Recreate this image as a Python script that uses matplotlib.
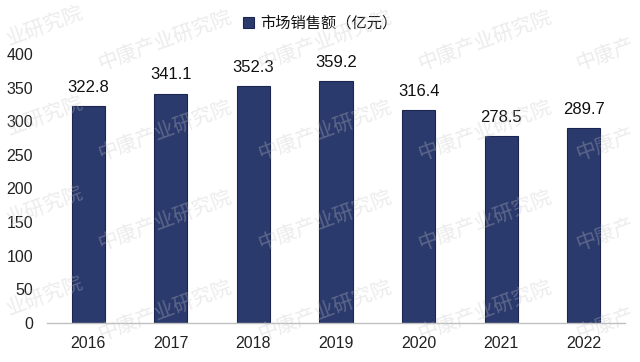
import matplotlib
matplotlib.use("Agg")
import matplotlib.pyplot as plt

years = ["2016", "2017", "2018", "2019", "2020", "2021", "2022"]
sales = [322.8, 341.1, 352.3, 359.2, 316.4, 278.5, 289.7]
series_name = "市场销售额（亿元）"
yticks = [0, 50, 100, 150, 200, 250, 300, 350, 400]
watermark = "中康产业研究院"
watermark_left = "业研究院"
watermark_right = "中康产"

plt.rcParams['font.family'] = ['Liberation Sans', 'Noto Sans CJK SC', 'DejaVu Sans']

fig = plt.figure(figsize=(6.4, 3.62), dpi=100)
fig.patch.set_facecolor('white')
ax = fig.add_axes([47/640, 1-323/362, (625-47)/640, (323-54)/362])

x = list(range(len(years)))
bars = ax.bar(x, sales, width=0.4, color='#2b3a6d', edgecolor='#1c2550',
              linewidth=0.8, label=series_name, zorder=2)
for xi, v in zip(x, sales):
    ax.annotate(f"{v:.1f}", (xi, v), xytext=(0, 8), textcoords='offset points',
                ha='center', va='bottom', fontsize=12, color='#111111', zorder=3)

ax.set_xlim(-0.5, len(years) - 0.5)
ax.set_ylim(0, 400)
ax.set_yticks(yticks)
ax.set_xticks(x)
ax.set_xticklabels(years)
ax.tick_params(axis='both', length=0, labelsize=11.5, colors='#222222')
ax.tick_params(axis='y', pad=10)
ax.tick_params(axis='x', pad=9)
for s in ['top', 'right', 'left']:
    ax.spines[s].set_visible(False)
ax.spines['bottom'].set_color('#c0c0c0')
ax.spines['bottom'].set_linewidth(1.0)
ax.set_facecolor('none')

leg = fig.legend(handles=[bars], labels=[series_name], loc='center',
                 bbox_to_anchor=(320/640, 1-23/362), frameon=False,
                 handlelength=0.7, handleheight=0.7, handletextpad=0.4,
                 prop={'family': ['Noto Sans CJK SC'], 'size': 11})
for t in leg.get_texts():
    t.set_color('#111111')

# watermarks
wm_x = [100, 260, 420]
wm_y = [70, 160, 250, 340]
wm_kw = dict(rotation=20, rotation_mode='anchor', ha='left', va='baseline',
             fontsize=14.5, color='#c4c4c4', alpha=0.32,
             family=['Noto Sans CJK SC'], zorder=10)
for yy in wm_y:
    fig.text(9/640, 1-(yy-25)/362, watermark_left, **wm_kw)
    for xx in wm_x:
        fig.text(xx/640, 1-yy/362, watermark, **wm_kw)
    fig.text(578/640, 1-yy/362, watermark_right, **wm_kw)

fig.savefig("out.png", dpi=100, facecolor='white')
